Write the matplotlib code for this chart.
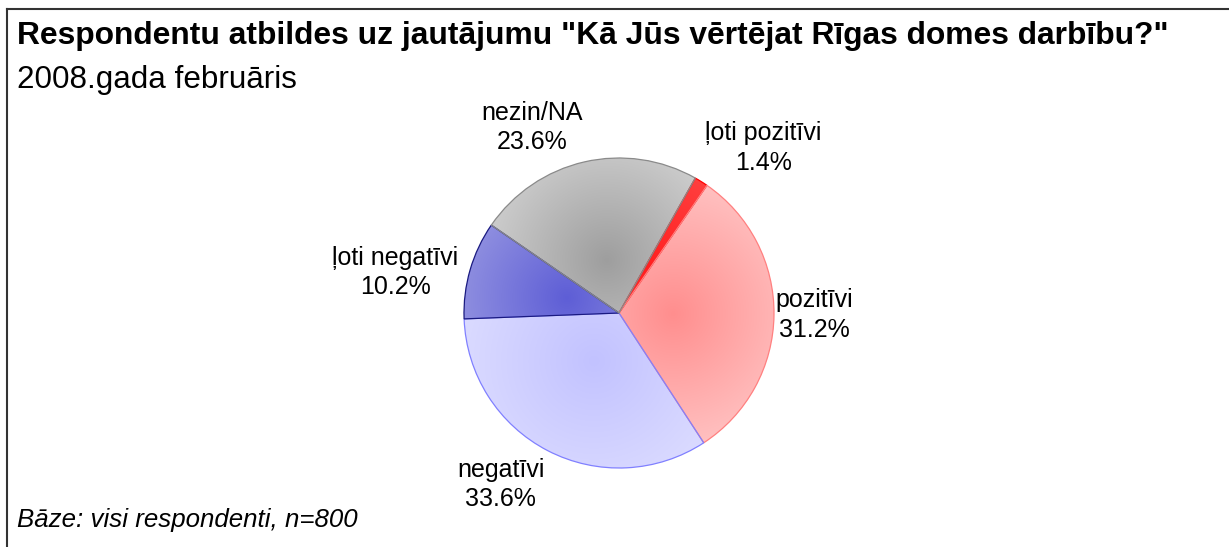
import numpy as np
import matplotlib
matplotlib.use("Agg")
import matplotlib.pyplot as plt
from matplotlib.colors import to_rgb

W, H = 1229, 547
plt.rcParams["font.family"] = ["Liberation Sans", "DejaVu Sans"]

# data (clockwise from top-right)
labels = ["ļoti pozitīvi", "pozitīvi", "negatīvi", "ļoti negatīvi", "nezin/NA"]
values = [1.4, 31.2, 33.6, 10.2, 23.6]
dark = ["#FF2020", "#FF8E8E", "#C2C2FF", "#5E5ED6", "#9E9E9E"]
light = ["#FF4848", "#FFC0C0", "#DADAFF", "#9A9AE2", "#D0D0D0"]
edges = ["#FF0000", "#FF8080", "#8080FF", "#1A1A80", "#8A8A8A"]

title = 'Respondentu atbildes uz jautājumu "Kā Jūs vērtējat Rīgas domes darbību?"'
subtitle = "2008.gada februāris"
note = "Bāze: visi respondenti, n=800"

CX, CY, R = 619, H - 313, 155

fig = plt.figure(figsize=(W / 100, H / 100), dpi=100, facecolor="white")
ax = fig.add_axes([0, 0, 1, 1])
ax.set_xlim(0, W); ax.set_ylim(0, H); ax.axis("off")

wedges, _ = ax.pie(values, startangle=60.5, counterclock=False, center=(CX, CY),
                   radius=R, colors=light, wedgeprops=dict(linewidth=0.9))
ax.set_xlim(0, W); ax.set_ylim(0, H); ax.set_aspect("equal")

# soft radial shading inside every slice
gx, gy = np.meshgrid(np.linspace(CX - R, CX + R, 400), np.linspace(CY + R, CY - R, 400))
for w, d, l, e in zip(wedges, dark, light, edges):
    mid = np.deg2rad((w.theta1 + w.theta2) / 2)
    fx, fy = CX + 0.35 * R * np.cos(mid), CY + 0.35 * R * np.sin(mid)
    t = np.clip(np.hypot(gx - fx, gy - fy) / (0.85 * R), 0, 1)[..., None]
    img = np.array(to_rgb(d)) * (1 - t) + np.array(to_rgb(l)) * t
    im = ax.imshow(img, extent=[CX - R, CX + R, CY - R, CY + R], zorder=1,
                   interpolation="bilinear")
    im.set_clip_path(w)
    w.set_facecolor("none"); w.set_edgecolor(e); w.set_zorder(2)

# labels outside the pie, aligned by side
for w, name, v in zip(wedges, labels, values):
    mid = np.deg2rad((w.theta1 + w.theta2) / 2)
    c, s = np.cos(mid), np.sin(mid)
    ha = "left" if c > 0 else "right"
    va = "bottom" if s > 0.5 else ("top" if s < -0.5 else "center")
    rr = 1.05 if va != "center" else (1.01 if c > 0 else 1.08)
    ax.text(CX + rr * R * c, CY + rr * R * s - (6 if va == "center" and c < 0 else 0),
            f"{name}\n{v:.1f}%", ha=ha, va=va,
            multialignment="center", fontsize=18, linespacing=1.3)

fig.text(17 / W, 1 - 44 / H, title, fontsize=22.9, fontweight="bold", va="baseline")
fig.text(17 / W, 1 - 88 / H, subtitle, fontsize=22.6, va="baseline")
fig.text(17 / W, 1 - 527 / H, note, fontsize=18.6, style="italic", va="baseline")

# frame (cut off on the right/bottom in the original)
fig.add_artist(plt.Line2D([7 / W, 1], [1 - 9 / H, 1 - 9 / H], color="#333333", lw=1.5))
fig.add_artist(plt.Line2D([7 / W, 7 / W], [0, 1 - 9 / H], color="#333333", lw=1.5))

fig.savefig("out.png", dpi=100, facecolor="white")
